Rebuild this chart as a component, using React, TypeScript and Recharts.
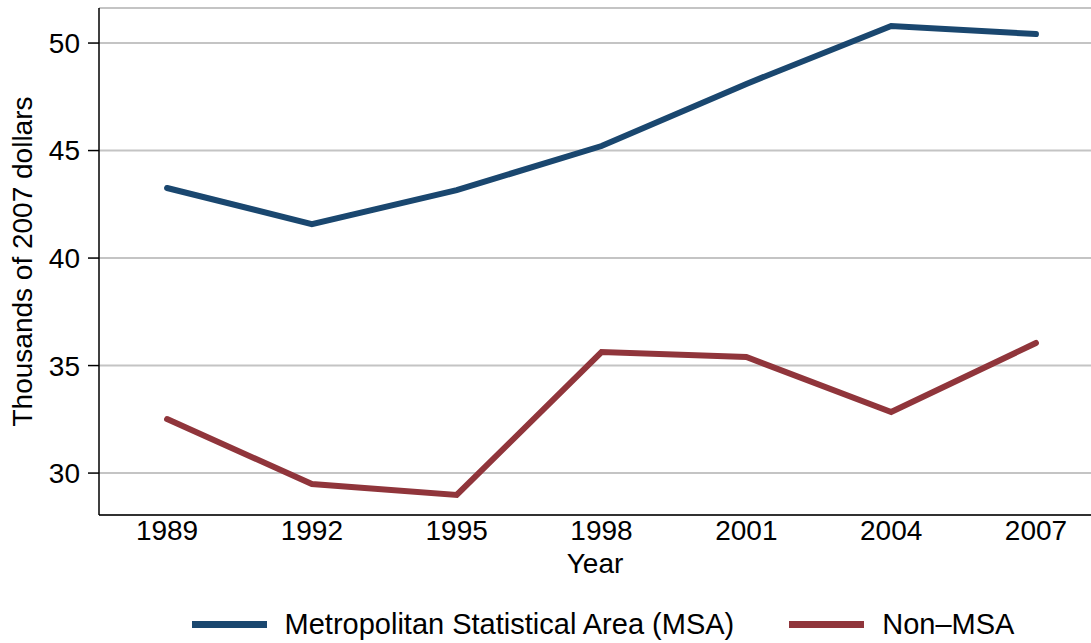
import { LineChart, Line, XAxis, YAxis, CartesianGrid, Legend } from "recharts"

const years = [1989, 1992, 1995, 1998, 2001, 2004, 2007]
const msa = [43.26, 41.58, 43.16, 45.21, 48.1, 50.79, 50.42]
const nonMsa = [32.51, 29.49, 28.98, 35.63, 35.4, 32.84, 36.05]
const yTicks = [30, 35, 40, 45, 50]

const seriesNames = { msa: 'Metropolitan Statistical Area (MSA)', nonMsa: 'Non\u2013MSA' }
const colors = { msa: '#1a476f', nonMsa: '#90353b' }

const data = years.map((year, i) => ({ year, msa: msa[i], nonMsa: nonMsa[i] }))

const font = 'Liberation Sans, Arial, sans-serif'

function LegendBox () {
    const items = [
        { key: 'msa', name: seriesNames.msa, color: colors.msa },
        { key: 'nonMsa', name: seriesNames.nonMsa, color: colors.nonMsa },
    ]
    return (
        <div style={{ display: 'flex', justifyContent: 'center', alignItems: 'center', fontFamily: font, fontSize: 29, lineHeight: '34px', color: '#000' }}>
            {items.map((it, i) => (
                <div key={it.key} style={{ display: 'flex', alignItems: 'center', marginLeft: i === 0 ? 0 : 55 }}>
                    <div style={{ width: 75, height: 7, background: it.color, marginRight: 18 }} />
                    <span>{it.name}</span>
                </div>
            ))}
        </div>
    )
}

function App () {
    return (
        <div style={{ position: 'absolute', left: 0, top: 0, width: 1091, height: 643, background: '#fff' }}>
            <LineChart
                width={1091}
                height={643}
                data={data}
                margin={{ top: 8, right: 0, left: 0, bottom: 58 }}>
                <CartesianGrid vertical={false} stroke='#c4c4c4' strokeWidth={2} />
                <XAxis
                    dataKey='year'
                    type='number'
                    domain={[1987.59, 2008.14]}
                    ticks={years}
                    allowDataOverflow
                    height={70}
                    tickLine={false}
                    tickSize={0}
                    tickMargin={5}
                    stroke='#000'
                    strokeWidth={1.5}
                    tick={{ fill: '#000', fontSize: 28, fontFamily: font }}
                    label={{ value: 'Year', position: 'insideBottom', offset: 12, fill: '#000', fontSize: 28, fontFamily: font }}
                />
                <YAxis
                    type='number'
                    domain={[28.05, 51.63]}
                    ticks={yTicks}
                    allowDataOverflow
                    width={99}
                    tickSize={11}
                    tickMargin={8}
                    stroke='#000'
                    strokeWidth={1.5}
                    tick={{ fill: '#000', fontSize: 28, fontFamily: font }}
                    label={{ value: 'Thousands of 2007 dollars', angle: -90, position: 'insideLeft', offset: 22, fill: '#000', fontSize: 28, fontFamily: font, style: { textAnchor: 'middle' } }}
                />
                <Legend
                    verticalAlign='middle'
                    align='center'
                    content={() => <LegendBox />}
                    wrapperStyle={{ top: 607, left: 115, width: 976 }}
                />
                <Line dataKey='msa' name={seriesNames.msa} stroke={colors.msa} strokeWidth={6} strokeLinecap='round' dot={false} isAnimationActive={false} />
                <Line dataKey='nonMsa' name={seriesNames.nonMsa} stroke={colors.nonMsa} strokeWidth={6} strokeLinecap='round' dot={false} isAnimationActive={false} />
            </LineChart>
        </div>
    )
}

export default App
